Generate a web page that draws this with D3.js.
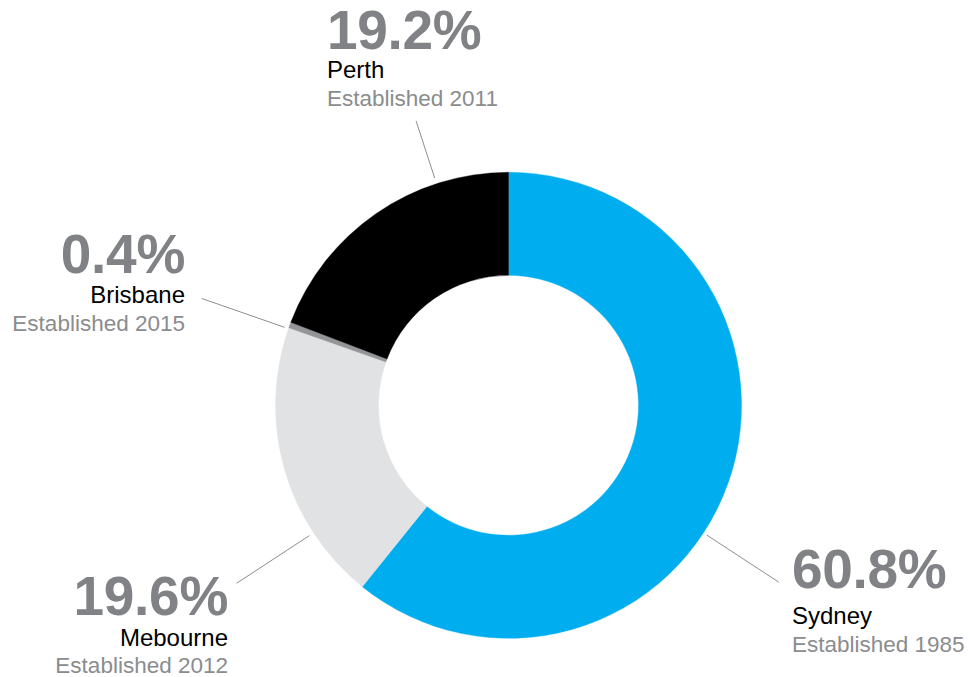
<!DOCTYPE html>
<html>
<head>
<meta charset="utf-8">
<script src="https://cdn.jsdelivr.net/npm/d3@7"></script>
<style>
  html, body { margin: 0; padding: 0; background: #ffffff; }
  svg { display: block; }
  text { font-family: "Liberation Sans", Arial, Helvetica, sans-serif; }
</style>
</head>
<body>
<svg id="chart" width="970" height="677"></svg>
<script>
// ---- data ----
const cities = ["Sydney", "Mebourne", "Brisbane", "Perth"];
const shares = [60.8, 19.6, 0.4, 19.2];
const established = ["Established 1985", "Established 2012", "Established 2015", "Established 2011"];
const colors = ["#00aeef", "#e1e2e3", "#939598", "#000000"];

// ---- layout (not data) ----
const W = 970, H = 677;
const cx = 508.5, cy = 405.3;
const rOuter = 233, rInner = 130;
// leader lines: polar angle (deg, clockwise from 12 o'clock) and radii
const leaders = [
  { angle: 123.2, r0: 237, r1: 323 },
  { angle: 236.8, r0: 238, r1: 325 },
  { angle: 289.2, r0: 237, r1: 325 },
  { angle: 342.0, r0: 239, r1: 299 }
];
// label blocks: anchor x, baselines for pct / name / established line
const labels = [
  { x: 792, anchor: "start", y: [588, 624, 652] },
  { x: 228, anchor: "end",   y: [615, 646, 673] },
  { x: 185, anchor: "end",   y: [273, 303, 331] },
  { x: 327, anchor: "start", y: [49, 78, 106] }
];

const svg = d3.select("#chart");
const g = svg.append("g").attr("transform", `translate(${cx},${cy})`);

const pie = d3.pie().sort(null).value(d => d)
  .startAngle(0).endAngle(2 * Math.PI);
const arcs = pie(shares);
const arc = d3.arc().innerRadius(rInner).outerRadius(rOuter);

g.selectAll("path.slice")
  .data(arcs)
  .join("path")
  .attr("class", "slice")
  .attr("d", arc)
  .attr("fill", (d, i) => colors[i])
  .attr("stroke", (d, i) => colors[i])
  .attr("stroke-width", 0.4);

// leader lines
g.selectAll("line.leader")
  .data(leaders)
  .join("line")
  .attr("class", "leader")
  .each(function (d) {
    const a = d.angle * Math.PI / 180;
    const p0 = d3.pointRadial(a, d.r0);
    const p1 = d3.pointRadial(a, d.r1);
    d3.select(this)
      .attr("x1", p0[0]).attr("y1", p0[1])
      .attr("x2", p1[0]).attr("y2", p1[1]);
  })
  .attr("stroke", "#8c8e90")
  .attr("stroke-width", 1);

// labels
const fmt = v => v.toFixed(1) + "%";
labels.forEach((L, i) => {
  const t = svg.append("g").attr("text-anchor", L.anchor);
  t.append("text")
    .attr("x", L.x).attr("y", L.y[0])
    .attr("font-size", 55)
    .attr("font-weight", "bold")
    .attr("letter-spacing", -0.3)
    .attr("fill", "#808285")
    .text(fmt(shares[i]));
  t.append("text")
    .attr("x", L.x).attr("y", L.y[1])
    .attr("font-size", 24)
    .attr("fill", "#000000")
    .text(cities[i]);
  t.append("text")
    .attr("x", L.x).attr("y", L.y[2])
    .attr("font-size", 22.5)
    .attr("fill", "#8a8c8e")
    .text(established[i]);
});
</script>
</body>
</html>
